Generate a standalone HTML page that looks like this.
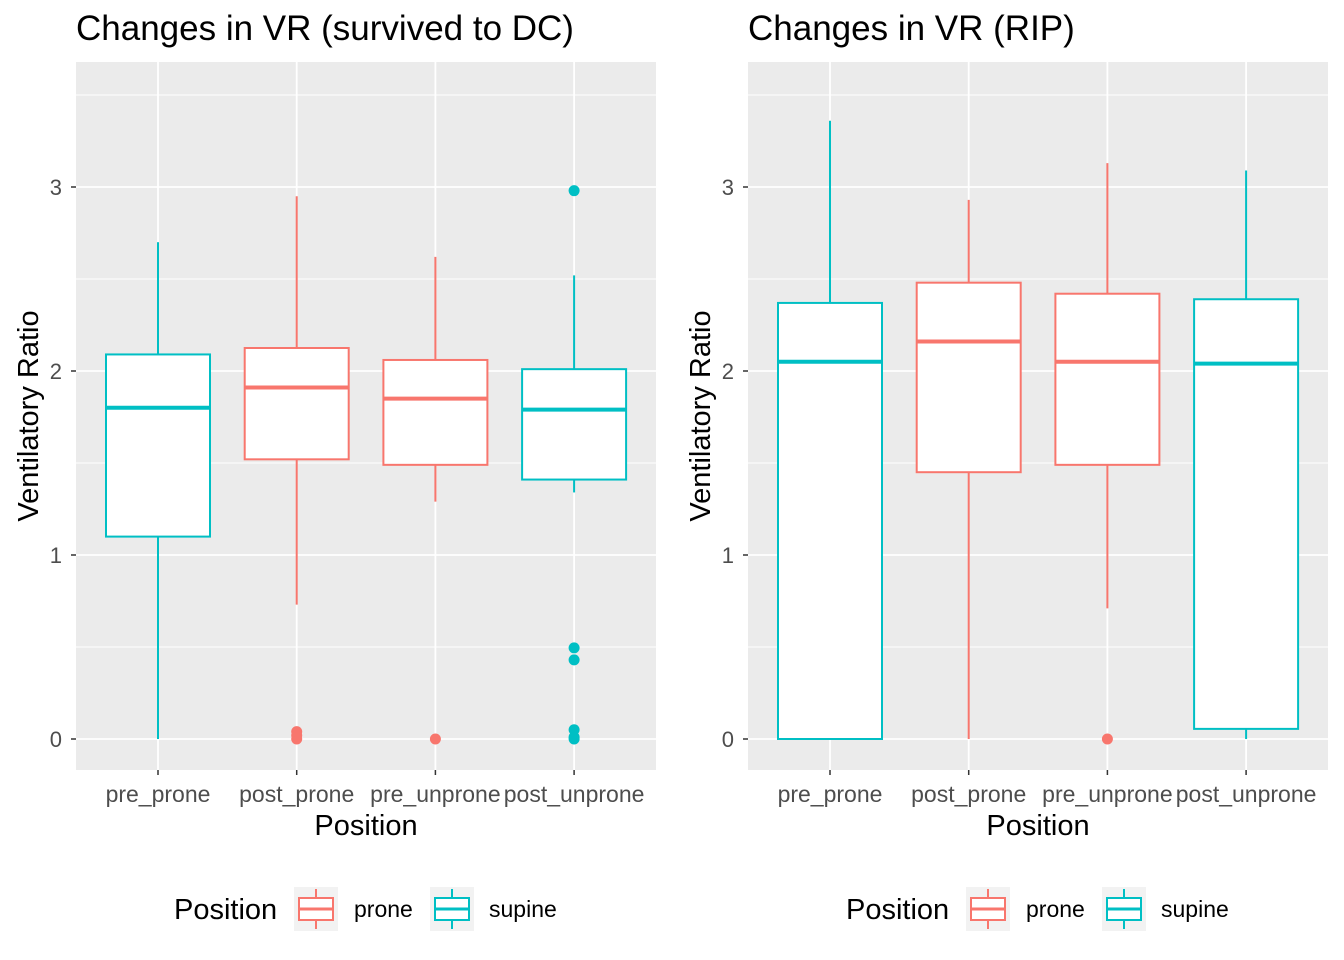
<!DOCTYPE html>
<html><head><meta charset="utf-8"><style>body{margin:0;background:#fff}svg{display:block;font-family:"Liberation Sans",Arial,sans-serif}</style></head>
<body>
<svg id="c" width="1344" height="960" xmlns="http://www.w3.org/2000/svg"></svg>
<script>
const categories=["pre_prone","post_prone","pre_unprone","post_unprone"];
const groups=["supine","prone","prone","supine"];
// [lowerWhisker, q1, median, q3, upperWhisker]
const leftStats=[[0,1.10,1.80,2.09,2.70],[0.73,1.52,1.91,2.125,2.95],[1.29,1.49,1.85,2.06,2.62],[1.34,1.41,1.79,2.01,2.52]];
const leftOutliers=[[],[0,0.02,0.04],[0],[2.98,0.495,0.43,0.05,0.01,0]];
const rightStats=[[0,0,2.05,2.37,3.36],[0,1.45,2.16,2.48,2.93],[0.71,1.49,2.05,2.42,3.13],[0,0.055,2.04,2.39,3.09]];
const rightOutliers=[[],[],[0],[]];
const yTicks=[0,1,2,3];
const titles=["Changes in VR (survived to DC)","Changes in VR (RIP)"];
const colors={prone:"#F8766D",supine:"#00BFC4"};
const NS="http://www.w3.org/2000/svg";
const svg=document.getElementById('c');
function el(t,a,p){const e=document.createElementNS(NS,t);for(const k in a)e.setAttribute(k,a[k]);(p||svg).appendChild(e);return e;}
function panel(ox,stats,outs,title,idx){
  const g=el('g',{});
  
  
  const L=ox,R=ox+580,T=62,B=770;
  const y=v=>739-v*184;
  const x=i=>L+82+i*138.7;
  el('rect',{x:L,y:T,width:580,height:B-T,fill:'#EBEBEB'},g);
  for(let v=0.5;v<3.7;v+=1)el('line',{x1:L,x2:R,y1:y(v),y2:y(v),stroke:'#fff','stroke-width':0.9},g);
  yTicks.forEach(v=>{el('line',{x1:L,x2:R,y1:y(v),y2:y(v),stroke:'#fff','stroke-width':1.8},g);
    const t=el('text',{x:L-14,y:y(v)+8,'text-anchor':'end','font-size':22,fill:'#4D4D4D'},g);t.textContent=v;
    
    el('line',{x1:L-5,x2:L,y1:y(v),y2:y(v),stroke:'#333','stroke-width':1.5},g);});
  categories.forEach((c,i)=>{
    el('line',{x1:x(i),x2:x(i),y1:T,y2:B,stroke:'#fff','stroke-width':1.8},g);
    el('line',{x1:x(i),x2:x(i),y1:B,y2:B+5,stroke:'#333','stroke-width':1.5},g);
    const t=el('text',{x:x(i),y:802,'text-anchor':'middle','font-size':23,fill:'#4D4D4D'},g);t.textContent=c;
    
    const s=stats[i],col=colors[groups[i]],hw=52;
    const b=el('g',{},g);
    
    
    el('line',{x1:x(i),x2:x(i),y1:y(s[0]),y2:y(s[1]),stroke:col,'stroke-width':2},b);
    el('line',{x1:x(i),x2:x(i),y1:y(s[3]),y2:y(s[4]),stroke:col,'stroke-width':2},b);
    el('rect',{x:x(i)-hw,y:y(s[3]),width:2*hw,height:y(s[1])-y(s[3]),fill:'#fff',stroke:col,'stroke-width':2},b);
    el('line',{x1:x(i)-hw,x2:x(i)+hw,y1:y(s[2]),y2:y(s[2]),stroke:col,'stroke-width':4},b);
    outs[i].forEach(o=>{const p=el('circle',{cx:x(i),cy:y(o),r:5.5,fill:col},b);
      });
  });
  let t=el('text',{x:L,y:40,'font-size':35,fill:'#000'},g);t.textContent=title;
  
  t=el('text',{x:L+290,y:835,'text-anchor':'middle','font-size':29,fill:'#000'},g);t.textContent='Position';
  
  t=el('text',{x:0,y:0,'text-anchor':'middle','font-size':29,fill:'#000',transform:`translate(${L-38},416) rotate(-90)`},g);t.textContent='Ventilatory Ratio';
  
  const lg=el('g',{},g);
  
  
  t=el('text',{x:L+98,y:919,'font-size':29,fill:'#000'},lg);t.textContent='Position';
  [['prone',L+218,L+278],['supine',L+354,L+413]].forEach(([n,kx,tx])=>{
    const k=el('g',{},lg);
    
    
    const col=colors[n],cx=kx+22;
    el('rect',{x:kx,y:887,width:44,height:44,fill:'#F2F2F2'},k);
    el('line',{x1:cx,x2:cx,y1:889,y2:898,stroke:col,'stroke-width':2},k);
    el('line',{x1:cx,x2:cx,y1:920,y2:929,stroke:col,'stroke-width':2},k);
    el('rect',{x:kx+5,y:898,width:34,height:22,fill:'#fff',stroke:col,'stroke-width':2},k);
    el('line',{x1:kx+5,x2:kx+39,y1:909,y2:909,stroke:col,'stroke-width':3},k);
    const tt=el('text',{x:tx,y:917,'font-size':23,fill:'#000'},k);tt.textContent=n;
  });
}
panel(76,leftStats,leftOutliers,titles[0],0);
panel(748,rightStats,rightOutliers,titles[1],1);
</script>
</body></html>
